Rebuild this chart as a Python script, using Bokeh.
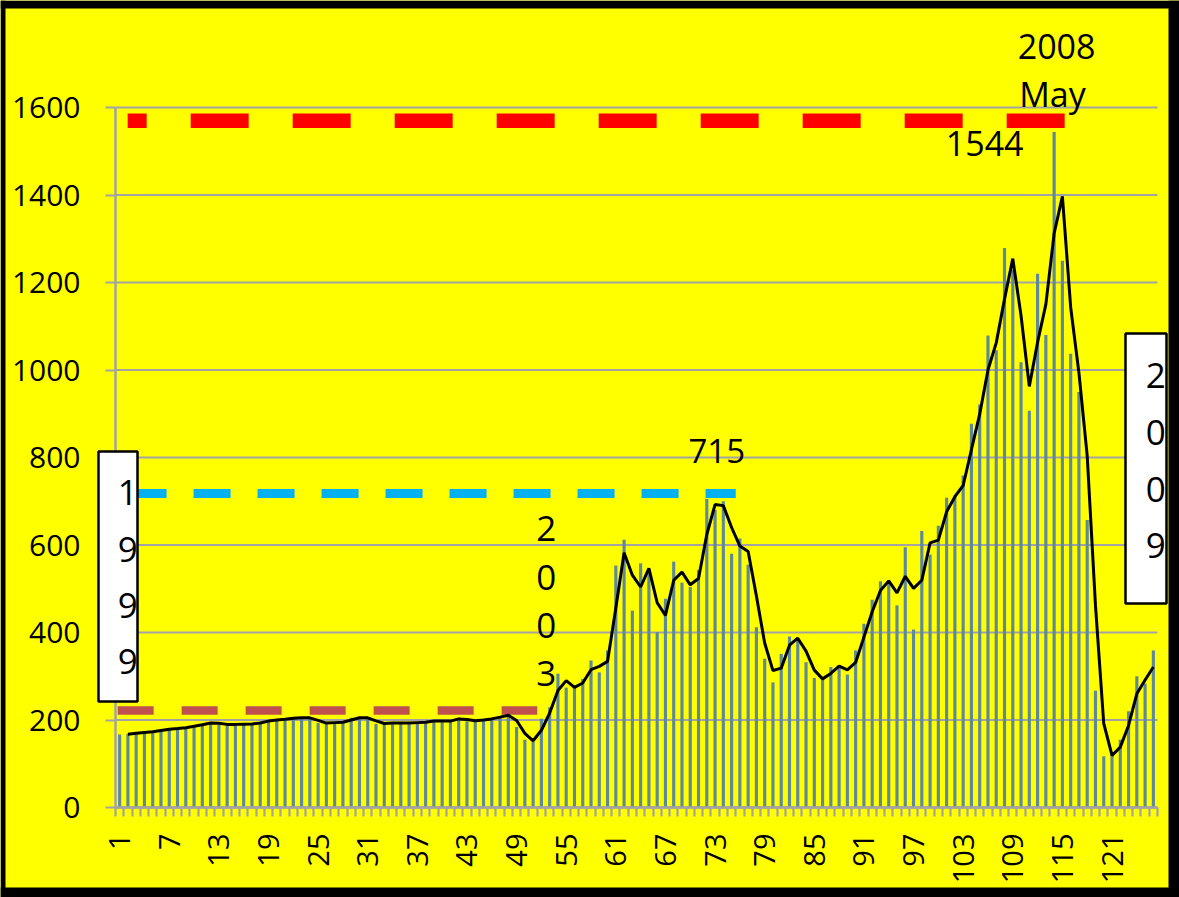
import math
from bokeh.plotting import figure
from bokeh.models import Range1d, FixedTicker, BoxAnnotation, Label, ColumnDataSource
from bokeh.embed import file_html
from bokeh.resources import INLINE

# ---------------- data ----------------
categories = list(range(1, 127))
monthly_values = [
    167, 168, 171, 172, 174, 178, 180, 181, 184, 187,
    191, 195, 190, 190, 190, 191, 191, 195, 200, 200,
    203, 205, 205, 205, 193, 193, 195, 195, 205, 205,
    205, 191, 193, 193, 193, 193, 195, 195, 200, 195,
    200, 205, 197, 200, 200, 205, 208, 214, 184, 155,
    150, 203, 229, 306, 274, 275, 294, 336, 309, 359,
    553, 612, 450, 558, 535, 401, 477, 562, 514, 504,
    543, 705, 680, 700, 580, 615, 555, 412, 340, 286,
    351, 391, 383, 332, 296, 292, 321, 325, 304, 359,
    420, 475, 517, 519, 462, 595, 407, 632, 578, 644,
    708, 713, 759, 877, 921, 1079, 1045, 1279, 1230, 1018,
    907, 1220, 1080, 1544, 1250, 1037, 950, 657, 267, 117,
    121, 155, 220, 300, 283, 359,
]
x_tick_values = list(range(1, 127, 6))
x_tick_labels = [str(v) for v in x_tick_values]
y_tick_values = list(range(0, 1601, 200))

# 2-period moving average trendline (as in the original chart)
ma_x = categories[1:]
ma_y = [(monthly_values[i - 1] + monthly_values[i]) / 2 for i in range(1, len(monthly_values))]

# reference dashed lines: (x start, x end, level)
red_line = (1.97, 115.6, 1570)
cyan_line = (2.2, 75.5, 718)
brown_line = (0.76, 51.5, 222)

# ---------------- layout (pixels) ----------------
W, H = 1179, 897
PLOT_L, PLOT_R, PLOT_T, PLOT_B = 115, 1157, 107, 807      # plot area in page pixels
X_LO, X_HI = 0.5, 126.5
Y_LO, Y_HI = 0, 1600
sx = (PLOT_R - PLOT_L) / (X_HI - X_LO)
sy = (PLOT_B - PLOT_T) / (Y_HI - Y_LO)


def cx(px):
    return X_LO + (px - PLOT_L) / sx


def vy(py):
    return Y_LO + (PLOT_B - py) / sy


p = figure(width=W, height=H, output_backend="svg", toolbar_location=None, title=None,
           x_range=Range1d(cx(0), cx(W)), y_range=Range1d(vy(H), vy(0)),
           min_border_left=0, min_border_right=0, min_border_top=0, min_border_bottom=0)
p.background_fill_color = "#FFFF00"
p.border_fill_color = "#FFFF00"
p.outline_line_color = None
p.xgrid.visible = False
p.ygrid.visible = False

GRID = "#a3a3a3"
FONT = "Open Sans"

# gridlines
p.segment(x0=[X_LO] * len(y_tick_values), x1=[X_HI] * len(y_tick_values),
          y0=y_tick_values, y1=y_tick_values, line_color=GRID, line_width=2.2, level="underlay")

# y axis
p.yaxis.fixed_location = X_LO
p.yaxis.bounds = (Y_LO, Y_HI)
p.yaxis.ticker = FixedTicker(ticks=y_tick_values)
p.yaxis.axis_line_color = GRID
p.yaxis.axis_line_width = 2.5
p.yaxis.major_tick_line_color = GRID
p.yaxis.major_tick_line_width = 2.2
p.yaxis.major_tick_out = 10
p.yaxis.major_tick_in = 0
p.yaxis.minor_tick_line_color = None
p.yaxis.major_label_standoff = 25
p.yaxis.major_label_text_font = FONT
p.yaxis.major_label_text_font_size = "30px"
p.yaxis.major_label_text_color = "black"

# x axis
p.xaxis.fixed_location = Y_LO
p.xaxis.bounds = (X_LO, X_HI)
p.xaxis.ticker = FixedTicker(ticks=x_tick_values,
                             minor_ticks=[c - 0.5 for c in categories] + [categories[-1] + 0.5])
p.xaxis.major_label_overrides = {v: s for v, s in zip(x_tick_values, x_tick_labels)}
p.xaxis.axis_line_color = GRID
p.xaxis.axis_line_width = 2.5
p.xaxis.major_tick_out = 0
p.xaxis.major_tick_in = 0
p.xaxis.major_tick_line_color = None
p.xaxis.minor_tick_out = 9
p.xaxis.minor_tick_in = 0
p.xaxis.minor_tick_line_color = GRID
p.xaxis.minor_tick_line_width = 2.2
p.xaxis.major_label_orientation = math.pi / 2
p.xaxis.major_label_standoff = 17
p.xaxis.major_label_text_font = FONT
p.xaxis.major_label_text_font_size = "29px"
p.xaxis.major_label_text_color = "black"

# bars
src = ColumnDataSource(dict(x=categories, top=monthly_values))
p.vbar(x="x", top="top", bottom=0, width=0.38, source=src,
       fill_color="#5e8998", line_color=None)

# dashed reference lines
p.line([red_line[0], red_line[1]], [red_line[2], red_line[2]], line_color="#FF0000",
       line_width=14.5, line_dash="58 44", line_dash_offset=39)
p.line([cyan_line[0], cyan_line[1]], [cyan_line[2], cyan_line[2]], line_color="#00B0F0",
       line_width=9, line_dash="37 27")
p.line([brown_line[0], brown_line[1]], [brown_line[2], brown_line[2]], line_color="#C0504D",
       line_width=8.5, line_dash="36 28")

# moving average line
p.line(ma_x, ma_y, line_color="black", line_width=3)

# boxes
p.add_layout(BoxAnnotation(left=cx(98), right=cx(137), bottom=vy(701), top=vy(451),
                           fill_color="white", fill_alpha=1, line_color="black",
                           line_width=2.5, line_alpha=1))
p.add_layout(BoxAnnotation(left=cx(1125), right=cx(1166), bottom=vy(603), top=vy(333),
                           fill_color="white", fill_alpha=1, line_color="black",
                           line_width=2.5, line_alpha=1))


def add_label(x, y, text, size="34px"):
    p.add_layout(Label(x=x, y=y, text=text, text_font=FONT, text_font_size=size,
                       text_align="center", text_baseline="middle", text_color="black"))


for ch, yy in zip("1999", [720, 590, 462, 334]):
    add_label(1.97, yy, ch, "35px")
for ch, yy in zip("2009", [987, 857, 727, 599]):
    add_label(126.3, yy, ch, "35px")
for ch, yy in zip("2003", [638, 526, 416, 306]):
    add_label(52.6, yy, ch, "35px")

add_label(73.2, 816, "715", "33px")
add_label(105.6, 1518, "1544")
add_label(114.3, 1739, "2008")
add_label(113.8, 1630, "May")

# black frame around the whole picture
for kw in (dict(right=cx(5)), dict(left=cx(1168)), dict(bottom=vy(8)), dict(top=vy(887))):
    p.add_layout(BoxAnnotation(fill_color="black", fill_alpha=1, line_color=None, **kw))

open("out.html", "w").write(file_html(p, INLINE))
